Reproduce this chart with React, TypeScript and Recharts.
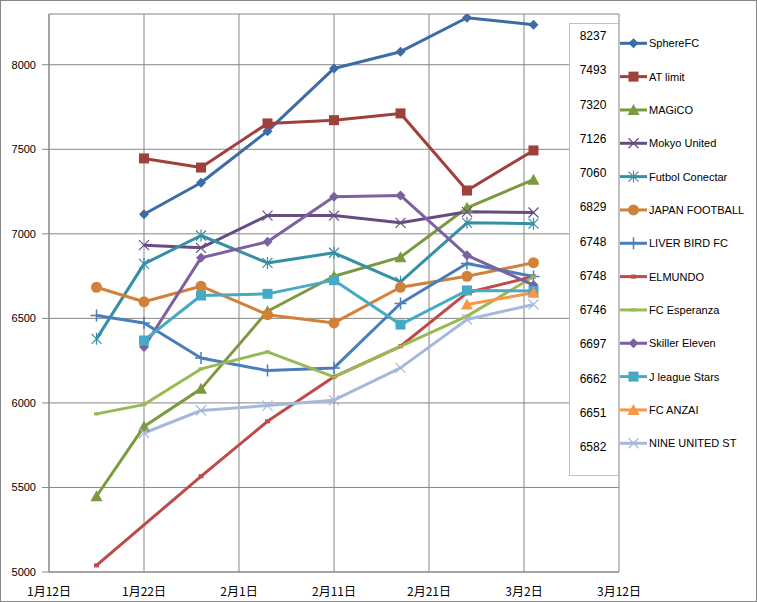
import { LineChart, Line, XAxis, YAxis, CartesianGrid } from "recharts";

// match days counted from 1/12 (2012, leap year)
const DAYS = [5, 10, 16, 23, 30, 37, 44, 51];
const DATE_TICKS = [0, 10, 20, 30, 40, 50, 60];
const DATE_LABELS = ["1月12日", "1月22日", "2月1日", "2月11日", "2月21日", "3月2日", "3月12日"];
const Y_TICKS = [5000, 5500, 6000, 6500, 7000, 7500, 8000];

const sphereFC = [null, 7116, 7302, 7607, 7978, 8077, 8278, 8237];
const atLimit = [null, 7446, 7392, 7653, 7672, 7712, 7256, 7493];
const magico = [5448, 5860, 6083, 6542, 6749, 6862, 7154, 7320];
const mokyoUnited = [null, 6933, 6917, 7108, 7108, 7065, 7130, 7126];
const futbolConectar = [6379, 6822, 6990, 6828, 6888, 6716, 7065, 7060];
const japanFootball = [6684, 6598, 6690, 6522, 6473, 6684, 6749, 6829];
const liverBird = [6517, 6473, 6266, 6191, 6207, 6588, 6824, 6748];
const elmundo = [5039, null, 5566, 5891, 6154, 6335, 6651, 6748];
const esperanza = [5935, 5990, 6201, 6302, 6154, 6335, 6513, 6746];
const skillerEleven = [null, 6331, 6858, 6953, 7219, 7227, 6873, 6697];
const jleagueStars = [null, 6369, 6635, 6645, 6726, 6463, 6665, 6662];
const fcAnzai = [null, null, null, null, null, null, 6582, 6651];
const nineUnited = [null, 5822, 5955, 5984, 6016, 6207, 6493, 6582];

type Shape = "diamond" | "square" | "triangle" | "x" | "star" | "circle" | "plus" | "dash" | "smalldash";

const SERIES: { name: string; values: (number | null)[]; color: string; shape: Shape }[] = [
  { name: "SphereFC", values: sphereFC, color: "#3C6BA5", shape: "diamond" },
  { name: "AT limit", values: atLimit, color: "#A0403D", shape: "square" },
  { name: "MAGiCO", values: magico, color: "#7B9A3F", shape: "triangle" },
  { name: "Mokyo United", values: mokyoUnited, color: "#654D83", shape: "x" },
  { name: "Futbol Conectar", values: futbolConectar, color: "#378FA6", shape: "star" },
  { name: "JAPAN FOOTBALL", values: japanFootball, color: "#D1813A", shape: "circle" },
  { name: "LIVER BIRD FC", values: liverBird, color: "#4A7EBB", shape: "plus" },
  { name: "ELMUNDO", values: elmundo, color: "#BE4B48", shape: "dash" },
  { name: "FC Esperanza", values: esperanza, color: "#98B954", shape: "smalldash" },
  { name: "Skiller Eleven", values: skillerEleven, color: "#7D60A0", shape: "diamond" },
  { name: "J league Stars", values: jleagueStars, color: "#46AAC5", shape: "square" },
  { name: "FC ANZAI", values: fcAnzai, color: "#F79646", shape: "triangle" },
  { name: "NINE UNITED ST", values: nineUnited, color: "#A7B9DA", shape: "x" },
];

const data = DAYS.map((day, i) => {
  const row: Record<string, number | null> = { day };
  SERIES.forEach((s, k) => {
    row[`s${k}`] = s.values[i];
  });
  return row;
});

function Marker({ shape, x, y, color }: { shape: Shape; x: number; y: number; color: string }) {
  switch (shape) {
    case "diamond":
      return <path d={`M${x},${y - 5}L${x + 5},${y}L${x},${y + 5}L${x - 5},${y}Z`} fill={color} />;
    case "square":
      return <rect x={x - 5} y={y - 5} width={10} height={10} fill={color} />;
    case "triangle":
      return <path d={`M${x},${y - 6}L${x + 6},${y + 5}L${x - 6},${y + 5}Z`} fill={color} />;
    case "x":
      return (
        <path
          d={`M${x - 5},${y - 5}L${x + 5},${y + 5}M${x - 5},${y + 5}L${x + 5},${y - 5}`}
          stroke={color}
          strokeWidth={1.2}
          fill="none"
        />
      );
    case "star":
      return (
        <path
          d={`M${x - 5},${y - 5}L${x + 5},${y + 5}M${x - 5},${y + 5}L${x + 5},${y - 5}M${x},${y - 6}L${x},${y + 6}`}
          stroke={color}
          strokeWidth={1.2}
          fill="none"
        />
      );
    case "circle":
      return <circle cx={x} cy={y} r={5.5} fill={color} />;
    case "plus":
      return (
        <path
          d={`M${x - 6},${y}L${x + 6},${y}M${x},${y - 6}L${x},${y + 6}`}
          stroke={color}
          strokeWidth={1.5}
          fill="none"
        />
      );
    case "dash":
      return <rect x={x - 2.5} y={y - 2} width={5} height={4} fill={color} />;
    case "smalldash":
      return <rect x={x - 2.5} y={y - 1.5} width={5} height={3} fill={color} />;
  }
  return null;
}

const axisFont = "'Liberation Sans', Arial, sans-serif";
const cjkFont = "'Noto Sans CJK JP', sans-serif";

export default function App() {
  return (
    <div style={{ position: "relative", width: 757, height: 602, background: "#fff" }}>
      <style>{"body{margin:0}"}</style>
      <LineChart
        width={757}
        height={602}
        data={data}
        margin={{ top: 14, right: 138, bottom: 0, left: 0 }}
      >
        <CartesianGrid stroke="#868686" strokeWidth={1} />
        <XAxis
          type="number"
          dataKey="day"
          domain={[0, 60]}
          ticks={DATE_TICKS}
          interval={0}
          tickFormatter={(v: number) => DATE_LABELS[DATE_TICKS.indexOf(v)] ?? ""}
          tickLine={false}
          axisLine={{ stroke: "#868686" }}
          height={30}
          tickMargin={9}
          tick={{ fontSize: 12, fill: "#000", fontFamily: cjkFont }}
        />
        <YAxis
          type="number"
          domain={[5000, 8300]}
          ticks={Y_TICKS}
          interval={0}
          allowDataOverflow
          width={49}
          tickSize={7}
          tickMargin={6}
          tickLine={{ stroke: "#868686" }}
          axisLine={{ stroke: "#868686" }}
          tick={{ fontSize: 11, fill: "#000", fontFamily: axisFont }}
        />
        {SERIES.map((s, k) => (
          <Line
            key={s.name}
            dataKey={`s${k}`}
            name={s.name}
            stroke={s.color}
            strokeWidth={3}
            strokeLinejoin="round"
            connectNulls
            isAnimationActive={false}
            activeDot={false}
            dot={(p: any) =>
              p.cy == null || p.value == null ? (
                <g key={`${s.name}-${p.index}`} />
              ) : (
                <g key={`${s.name}-${p.index}`}>
                  <Marker shape={s.shape} x={p.cx} y={p.cy} color={s.color} />
                </g>
              )
            }
          />
        ))}
      </LineChart>

      <svg
        width={757}
        height={602}
        style={{ position: "absolute", left: 0, top: 0, pointerEvents: "none" }}
      >
        <rect x={569.5} y={23.5} width={49} height={452} fill="#fff" stroke="#BFBFBF" />
        {SERIES.map((s, i) => (
          <text
            key={`v-${s.name}`}
            x={593}
            y={36 + i * 34.27}
            textAnchor="middle"
            dominantBaseline="central"
            fontSize={12}
            fontFamily={axisFont}
            fill="#000"
          >
            {s.values[s.values.length - 1]}
          </text>
        ))}
        {SERIES.map((s, i) => {
          const y = 43.3 + i * 33.33;
          return (
            <g key={`l-${s.name}`}>
              <line x1={620} x2={647} y1={y} y2={y} stroke={s.color} strokeWidth={3} />
              <Marker shape={s.shape} x={633.5} y={y} color={s.color} />
              <text
                x={649}
                y={y}
                dominantBaseline="central"
                fontSize={11}
                fontFamily={axisFont}
                fill="#000"
              >
                {s.name}
              </text>
            </g>
          );
        })}
        <rect x={0.5} y={0.5} width={756} height={601} fill="none" stroke="#868686" />
      </svg>
    </div>
  );
}
